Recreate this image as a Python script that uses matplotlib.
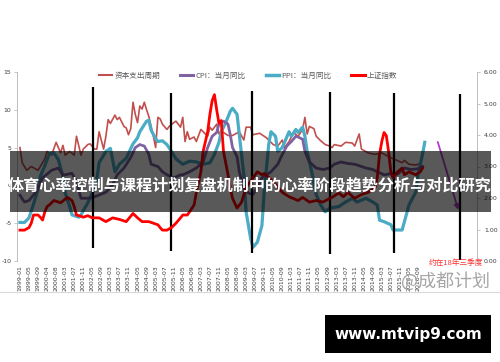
import matplotlib
matplotlib.use('Agg')
import matplotlib.pyplot as plt
from matplotlib.lines import Line2D
from matplotlib.patches import Rectangle

plt.rcParams['font.family'] = ['Noto Sans CJK SC', 'DejaVu Sans']

# ---------------- data (category index, value) ----------------
tick_labels = ['1999-01', '1999-05', '1999-09', '2000-04', '2000-08', '2001-03', '2001-07',
               '2001-11', '2002-05', '2002-09', '2003-03', '2003-07', '2003-11', '2004-05',
               '2004-09', '2005-03', '2005-07', '2005-11', '2006-05', '2006-09', '2007-03',
               '2007-07', '2007-11', '2008-05', '2008-09', '2009-03', '2009-07', '2009-11',
               '2010-05', '2010-09', '2011-03', '2011-07', '2011-11', '2012-05', '2012-09',
               '2013-03', '2013-07', '2013-11', '2014-05', '2014-09', '2015-03', '2015-07',
               '2015-11', '2016-05', '2016-09']
tick_pos = [0, 4, 8, 12, 16, 20, 24, 28, 32, 36, 40, 44, 48, 52, 56, 60, 64, 68, 72, 76, 80,
            84, 88, 92, 96, 100, 104, 108, 112, 116, 120, 124, 128, 132, 136, 140, 144, 148,
            152, 156, 160, 164, 168, 172, 176]

capex_idx = [0, 1, 3, 5, 8, 11, 12, 14, 16, 18, 19, 20, 22, 24, 25, 27, 28, 30, 31, 33, 34, 35,
             37, 38, 39, 40, 42, 43, 44, 46, 47, 48, 49, 50, 51, 52, 53, 54, 55, 56, 57, 59, 60,
             61, 62, 63, 65, 66, 68, 69, 71, 72, 73, 74, 75, 77, 78, 80, 81, 83, 84, 85, 87, 88,
             89, 92, 94, 97, 99, 100, 102, 103, 106, 109, 112, 114, 116, 117, 119, 121, 123,
             125, 126, 127, 128, 130, 131, 133, 135, 137, 138, 139, 142, 144, 147, 148, 150,
             151, 154, 157, 160, 163, 166, 169, 170, 172, 175, 176]
capex_val = [5.0, 3.0, 2.0, 2.5, 2.0, 3.5, 4.5, 4.0, 5.7, 4.3, 5.3, 4.0, 4.5, 4.0, 6.5, 4.0, 4.8,
             5.4, 5.5, 4.8, 4.8, 7.1, 4.8, 6.5, 8.7, 8.2, 9.3, 8.7, 9.0, 7.8, 7.6, 6.7, 7.5, 11.0,
             9.4, 8.3, 10.5, 10.1, 11.0, 10.0, 9.1, 6.5, 5.0, 9.0, 8.8, 8.1, 7.4, 7.8, 8.3, 8.5,
             7.7, 9.0, 5.8, 7.1, 6.1, 6.4, 5.8, 7.4, 7.1, 6.5, 7.7, 7.3, 8.1, 6.8, 7.2, 6.6, 6.6,
             7.1, 6.0, 7.7, 7.7, 6.7, 6.9, 6.3, 5.4, 5.2, 6.0, 5.0, 5.8, 7.0, 6.5, 7.4, 9.0, 6.8,
             7.8, 7.5, 6.5, 5.9, 5.4, 5.2, 5.0, 5.4, 5.2, 5.7, 5.6, 5.2, 6.8, 4.8, 4.3, 4.1, 4.3,
             3.8, 3.4, 3.0, 3.3, 2.8, 2.7, 2.8]

cpi_idx = [0, 2, 4, 7, 10, 14, 17, 19, 20, 23, 25, 27, 31, 34, 38, 41, 43, 46, 49, 51, 53, 55,
           57, 58, 61, 63, 65, 68, 71, 72, 75, 78, 81, 83, 85, 87, 88, 90, 92, 93, 94, 96, 97,
           99, 101, 103, 105, 107, 111, 114, 116, 118, 120, 122, 123, 125, 126, 128, 131, 134,
           137, 139, 142, 145, 148, 153, 156, 158, 161, 165, 167, 170, 173, 176, 178]
cpi_val = [-1.3, -2.2, -2.0, -0.9, 1.0, 2.0, 2.3, 1.4, 1.4, 1.6, 0.5, -1.7, -1.7, -1.4, -0.9,
           0.1, 1.4, 2.3, 3.7, 5.0, 5.4, 5.2, 4.1, 2.8, 2.5, 1.8, 1.4, 1.0, 1.4, 1.4, 1.8, 2.3,
           3.1, 5.0, 6.5, 7.0, 8.1, 8.5, 8.1, 6.7, 5.0, 3.8, 1.8, -0.3, -1.0, -1.2, -0.3, 1.0,
           1.8, 2.8, 4.1, 5.2, 5.8, 6.5, 6.4, 6.1, 4.5, 3.1, 2.3, 2.1, 2.3, 2.8, 3.1, 2.9, 2.8,
           2.3, 2.1, 1.8, 1.4, 1.6, 1.5, 2.3, 2.1, 2.2, 2.5]

ppi_idx = [0, 2, 4, 6, 8, 9, 11, 12, 13, 15, 17, 19, 20, 22, 23, 26, 27, 30, 32, 34, 35, 38, 40,
           42, 44, 47, 50, 52, 53, 56, 57, 58, 60, 61, 63, 65, 67, 69, 72, 75, 78, 81, 84, 86,
           88, 89, 91, 93, 94, 96, 97, 99, 100, 102, 103, 105, 107, 108, 110, 111, 113, 114,
           116, 119, 120, 122, 123, 125, 126, 127, 129, 131, 133, 135, 137, 141, 144, 147, 149,
           153, 156, 158, 159, 161, 164, 165, 169, 170, 172, 175, 176, 178, 179]
ppi_val = [-4.9, -4.9, -4.3, -2.5, -0.5, 1.2, 2.6, 3.4, 4.2, 4.3, 3.4, 1.2, -1.0, -2.8, -3.9,
           -4.2, -3.9, -2.3, -1.0, 0.8, 3.0, 4.5, 4.9, 1.8, 2.8, 3.6, 5.5, 6.3, 7.1, 8.5, 8.6,
           7.3, 6.2, 5.8, 5.9, 5.4, 4.5, 3.5, 2.8, 3.2, 3.1, 2.8, 3.0, 4.1, 5.7, 7.1, 8.3, 9.8,
           10.2, 9.4, 6.7, 1.4, -3.5, -7.0, -8.2, -7.5, -5.3, -0.9, 5.4, 7.1, 6.5, 4.5, 5.0, 7.1,
           6.5, 7.4, 7.0, 7.7, 6.5, 4.5, 1.8, -1.2, -2.6, -3.5, -3.0, -2.8, -2.2, -1.7, -2.2,
           -1.7, -2.2, -2.6, -4.6, -4.8, -5.2, -5.9, -5.9, -4.8, -2.6, -0.9, 1.4, 4.1, 5.7]

# 上证指数 (right axis, thousands)
sh_idx = [0, 2, 4, 5, 6, 8, 9, 10, 11, 12, 13, 15, 18, 21, 23, 24, 25, 27, 28, 30, 32, 35, 38,
          41, 44, 47, 50, 52, 54, 57, 61, 62, 63, 65, 67, 69, 71, 72, 74, 75, 77, 78, 80, 81, 83,
          84, 85, 86, 87, 88, 89, 90, 92, 93, 94, 96, 98, 100, 103, 105, 107, 108, 111, 114,
          116, 119, 123, 125, 128, 131, 134, 137, 138, 141, 143, 145, 148, 151, 154, 157, 158,
          159, 160, 161, 162, 163, 164, 165, 166, 167, 169, 170, 172, 175, 177, 178]
sh_val = [0.98, 0.98, 1.06, 1.20, 1.46, 1.46, 1.39, 1.30, 1.56, 1.73, 1.78, 1.92, 1.85, 2.02,
          1.92, 1.73, 1.46, 1.42, 1.39, 1.44, 1.37, 1.37, 1.25, 1.37, 1.32, 1.25, 1.51, 1.37,
          1.25, 1.25, 1.15, 1.06, 0.98, 0.98, 1.06, 1.20, 1.37, 1.46, 1.46, 1.56, 1.78, 2.18,
          2.83, 3.48, 4.10, 4.66, 5.09, 5.28, 4.80, 4.37, 4.46, 3.48, 2.74, 2.33, 1.99, 1.68,
          1.87, 2.33, 2.64, 2.83, 2.74, 2.78, 2.59, 2.35, 2.18, 2.04, 1.92, 2.02, 1.87, 1.92,
          1.87, 1.99, 2.02, 2.16, 2.04, 2.18, 1.99, 2.11, 2.18, 2.33, 2.64, 3.38, 3.79, 4.08,
          3.98, 3.48, 2.83, 2.64, 2.74, 2.83, 2.95, 2.74, 2.83, 2.74, 2.83, 2.95]

cycle_idx = [32.3, 66.8, 102.8, 137.1, 165.4, 194.6]
cycle_top = [13.0, 12.2, 12.5, 12.4, 12.2, 12.1]
cycle_bottom = [-8.3, -8.7, -9.0, -9.1, -9.0, -9.9]

proj_idx = [184.4, 194.2]
proj_val = [6.1, -3.6]

left_ticks = [15, 10, 5, 0, -5, -10]
right_ticks = [0, 1, 2, 3, 4, 5, 6]

# ---------------- figure ----------------
W, H = 500, 362
fig = plt.figure(figsize=(W / 100, H / 100), dpi=100)
ax = fig.add_axes([17 / W, 1 - 261 / H, 460 / W, 189 / H])
ax2 = ax.twinx()

c_capex = '#C0504D'
c_cpi = '#8064A2'
c_ppi = '#4BACC6'
c_sh = '#FF0000'

ax.plot(capex_idx, capex_val, color=c_capex, lw=1.2, zorder=2)
ax.plot(ppi_idx, ppi_val, color=c_ppi, lw=2.3, zorder=3)
ax.plot(cpi_idx, cpi_val, color=c_cpi, lw=2.0, zorder=4)
ax.vlines(cycle_idx, cycle_bottom, cycle_top, color='black', lw=1.6, zorder=6)
ax.annotate('', xy=(proj_idx[1], proj_val[1]), xytext=(proj_idx[0], proj_val[0]),
            arrowprops=dict(arrowstyle='-|>', color='#B43CC8', lw=1.3, mutation_scale=7),
            zorder=7)
ax2.plot(sh_idx, sh_val, color=c_sh, lw=2.0, zorder=5)

ax.set_xlim(-1.3, 202.1)
ax.set_ylim(-10, 15)
ax2.set_ylim(0, 6)

ax.set_xticks(tick_pos)
ax.set_xticklabels(tick_labels, rotation=90, fontsize=4.5, color='#404040',
                   family=['DejaVu Sans'])
ax.tick_params(axis='x', length=0, pad=3)
ax.set_yticks(left_ticks)
ax.set_yticklabels([str(t) for t in left_ticks], fontsize=4.5, color='#404040',
                   family=['DejaVu Sans'])
ax.tick_params(axis='y', length=2, width=0.6, color='#BFBFBF', pad=2)
ax2.set_yticks(right_ticks)
ax2.set_yticklabels(['%.2f' % t for t in right_ticks], fontsize=4.5, color='#404040',
                    family=['DejaVu Sans'])
ax2.tick_params(axis='y', length=2, width=0.6, color='#BFBFBF', pad=3)

for a in (ax, ax2):
    for s in ('top', 'bottom'):
        a.spines[s].set_visible(False)
ax.spines['right'].set_visible(False)
ax2.spines['left'].set_visible(False)
ax.spines['left'].set_color('#BFBFBF')
ax2.spines['right'].set_color('#BFBFBF')
ax.spines['left'].set_linewidth(0.7)
ax2.spines['right'].set_linewidth(0.7)

# legend
handles = [Line2D([], [], color=c_capex, lw=1.5),
           Line2D([], [], color=c_cpi, lw=2.2),
           Line2D([], [], color=c_ppi, lw=2.5),
           Line2D([], [], color=c_sh, lw=2.2)]
labels = ['资本支出周期', 'CPI：当月同比', 'PPI：当月同比', '上证指数']
leg = fig.legend(handles, labels, loc='center', bbox_to_anchor=(248 / W, 1 - 76 / H),
                 ncol=4, frameon=False, fontsize=5.5, handlelength=1.75,
                 handletextpad=0.3, columnspacing=2.6, borderpad=0)
for t in leg.get_texts():
    t.set_color('#595959')

# baseline of chart frame
fig.add_artist(Line2D([0, 1], [1 - 292 / H, 1 - 292 / H], transform=fig.transFigure,
                      color='#D9D9D9', lw=0.8))

# annotation texts
fig.text(456 / W, 1 - 263 / H, '约在18年三季度', color='#FF3030', fontsize=5.5,
         ha='center', va='center')
fig.text(445 / W, 1 - 281 / H, '@成都计划', color='#A6A6A6', fontsize=13,
         ha='center', va='center')

# overlay banner and title
fig.add_artist(Rectangle((10 / W, 1 - 212 / H), 481 / W, 61 / H, transform=fig.transFigure,
                         facecolor='black', alpha=0.65, edgecolor='none', zorder=10))
fig.text(250 / W, 1 - 186 / H, '体育心率控制与课程计划复盘机制中的心率阶段趋势分析与对比研究',
         color='white', fontsize=11.6, fontweight='bold', ha='center', va='center',
         zorder=11)

# bottom url box
fig.add_artist(Rectangle((325 / W, 1 - 353 / H), 166 / W, 38 / H, transform=fig.transFigure,
                         facecolor='black', edgecolor='none', zorder=10))
fig.text(408 / W, 1 - 334 / H, 'www.mtvip9.com', color='white', fontsize=11,
         fontweight='bold', ha='center', va='center', family=['DejaVu Sans'], zorder=11)

fig.savefig('out.png', dpi=100)
